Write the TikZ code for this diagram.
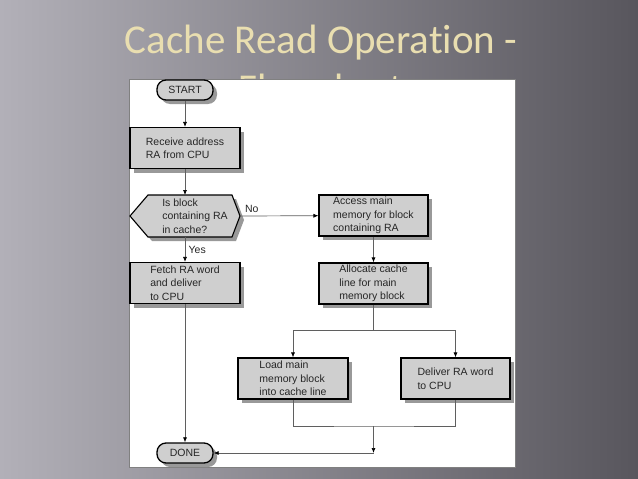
\documentclass[tikz,border=0pt]{standalone}
\usepackage{fontspec}
\setmainfont{Liberation Sans}
\newfontfamily\titlefont[Ligatures=NoCommon]{Carlito}
\usetikzlibrary{arrows.meta, shadows}

\definecolor{bgleft}{RGB}{178,176,184}
\definecolor{bgright}{RGB}{88,86,93}
\definecolor{boxgray}{RGB}{207,207,207}
\definecolor{titlecream}{RGB}{233,222,176}
\definecolor{linegray}{RGB}{95,95,95}

\begin{document}
\begin{tikzpicture}[
        x=1pt, y=-1pt,
        font=\fontsize{10.5}{13.5}\selectfont,
        boxshadow/.style={drop shadow={shadow xshift=4pt, shadow yshift=-4pt, fill=black!40, opacity=1}},
        proc/.style={rectangle, draw=black, line width=1.1pt, fill=boxgray, boxshadow,
            minimum width=110pt, minimum height=41pt, align=left, inner sep=2pt, text=black!85},
        term/.style={rectangle, draw=black, line width=1.3pt, fill=boxgray, boxshadow, rounded corners=9pt,
            minimum width=56pt, minimum height=20pt, inner sep=1pt, text=black!85},
        arr/.style={-{Latex[length=5pt, width=4pt, black]}, draw=linegray, line width=0.7pt},
        link/.style={draw=linegray, line width=0.7pt}
    ]
    \useasboundingbox (0,0) rectangle (638,479);
    \fill[left color=bgleft, right color=bgright] (0,0) rectangle (638,479);

    \node[font=\titlefont\fontsize{41}{49}\selectfont, text=titlecream, align=center, anchor=base] (title) at (321,102) {Cache Read Operation -\\Flowchart};
    \draw[fill=white, draw=black!50] (129,79) rectangle (515,467);

    \node[term] (start)   at (185,90) {START};
    \node[proc] (recv)    at (185,148) {Receive address\\RA from CPU};
    \coordinate (hitN) at (185,195);
    \coordinate (hitS) at (185,237);
    \coordinate (hitE) at (240,216);
    \draw[draw=black, line width=1.1pt, fill=boxgray, boxshadow]
        (130,216) -- (148,195) -- (232,195) -- (hitE) -- (232,237) -- (148,237) -- cycle;
    \node[align=left, inner sep=0pt, text=black!85] (hit) at (195,216) {Is block\\containing RA\\in cache?};
    \node[proc] (fetch)   at (185,283) {Fetch RA word\\and deliver\\to CPU};
    \node[proc, minimum width=109pt] (access)  at (373.5,215.5) {Access main\\memory for block\\containing RA};
    \node[proc, minimum width=109pt] (alloc)   at (373.5,283.5) {Allocate cache\\line for main\\memory block};
    \node[proc] (load)    at (293,378.5) {Load main\\memory block\\into cache line};
    \node[proc, minimum width=109pt] (deliver) at (455.5,378.5) {Deliver RA word\\to CPU};
    \node[term] (done)    at (185,453) {DONE};
    \coordinate (split) at (373.5,330);
    \coordinate (merge) at (373.5,426);
    \coordinate (join)  at (373.5,453);

    \draw[arr] (start) -- (recv);
    \draw[arr] (recv) -- (hitN);
    \draw[arr] (hitE) -- node[pos=0.15, above, text=black!85]{No} (access);
    \draw[arr] (hitS) -- node[right, text=black!85]{Yes} (fetch);
    \draw[arr] (access) -- (alloc);
    \draw[link] (alloc) -- (split);
    \draw[arr] (split) -| (load);
    \draw[arr] (split) -| (deliver);
    \draw[link] (load) |- (merge) -| (deliver);
    \draw[arr] (merge) -- (join);
    \draw[arr] (join) -- (done);
    \draw[arr] (fetch) -- (done);
\end{tikzpicture}
\end{document}
